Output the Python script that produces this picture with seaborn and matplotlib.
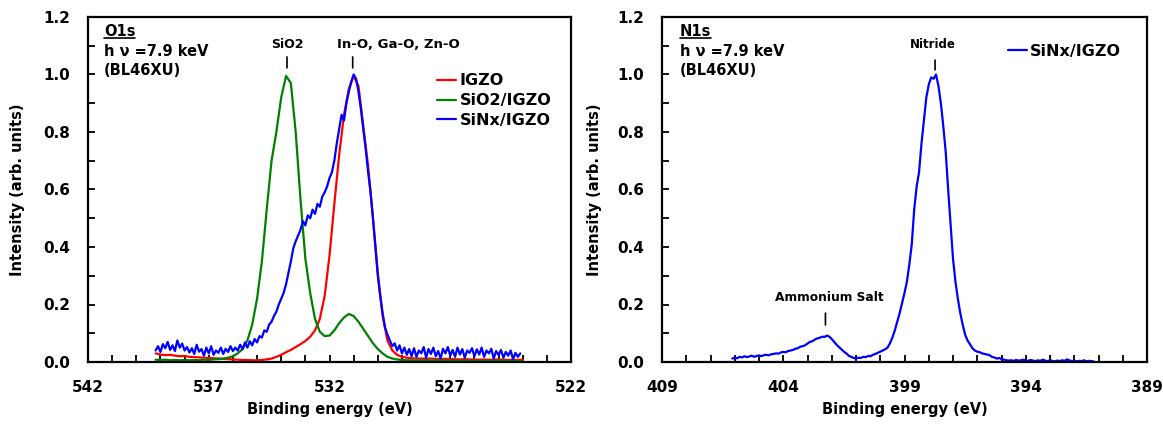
import numpy as np
import matplotlib
matplotlib.use('Agg')
import matplotlib.pyplot as plt
import seaborn as sns
import pandas as pd
from matplotlib.lines import Line2D
from matplotlib.ticker import MultipleLocator

# O1s spectra, 0.2 eV grid starting at 539.2 eV going down
o1s_start = 539.2
igzo = [0.030, 0.026, 0.024, 0.025, 0.022, 0.020, 0.021, 0.018, 0.017, 0.016,
        0.015, 0.014, 0.013, 0.012, 0.011, 0.010, 0.009, 0.008, 0.007, 0.007,
        0.006, 0.006, 0.007, 0.009, 0.012, 0.018, 0.025, 0.034, 0.042, 0.052,
        0.062, 0.073, 0.088, 0.110, 0.150, 0.230, 0.370, 0.550, 0.720, 0.860,
        0.950, 0.995, 0.960, 0.820, 0.680, 0.500, 0.310, 0.160, 0.075, 0.040,
        0.025, 0.018, 0.015, 0.013, 0.012, 0.012, 0.011, 0.012, 0.011, 0.010,
        0.011, 0.010, 0.010, 0.009, 0.010, 0.009, 0.009, 0.008, 0.009, 0.008,
        0.008, 0.009, 0.008, 0.007, 0.008, 0.007, 0.008]
sio2_igzo = [0.008, 0.007, 0.008, 0.006, 0.007, 0.006, 0.007, 0.006, 0.007, 0.006,
             0.008, 0.007, 0.009, 0.010, 0.012, 0.015, 0.020, 0.030, 0.045, 0.075,
             0.130, 0.220, 0.350, 0.530, 0.700, 0.800, 0.920, 0.995, 0.970, 0.800,
             0.565, 0.360, 0.240, 0.150, 0.105, 0.090, 0.092, 0.110, 0.135, 0.155,
             0.167, 0.160, 0.140, 0.115, 0.090, 0.065, 0.045, 0.030, 0.018, 0.012,
             0.009, 0.007, 0.006, 0.006, 0.005, 0.006, 0.005, 0.005, 0.006, 0.005,
             0.004, 0.005, 0.005, 0.004, 0.005, 0.004, 0.005, 0.004, 0.004, 0.005,
             0.004, 0.004, 0.005, 0.004, 0.004, 0.003, 0.004]
# 0.1 eV grid from 539.2 eV
sinx_igzo_o1s = [
    0.040, 0.055, 0.035, 0.062, 0.048, 0.070, 0.042, 0.058, 0.038, 0.075,
    0.050, 0.064, 0.040, 0.052, 0.033, 0.048, 0.028, 0.060, 0.036, 0.045,
    0.022, 0.050, 0.030, 0.055, 0.025, 0.040, 0.032, 0.050, 0.028, 0.046,
    0.035, 0.055, 0.038, 0.050, 0.040, 0.060, 0.045, 0.068, 0.050, 0.072,
    0.058, 0.080, 0.068, 0.090, 0.085, 0.110, 0.105, 0.130, 0.140, 0.160,
    0.175, 0.200, 0.220, 0.240, 0.270, 0.310, 0.350, 0.395, 0.420, 0.440,
    0.460, 0.490, 0.475, 0.510, 0.500, 0.530, 0.515, 0.550, 0.540, 0.575,
    0.590, 0.610, 0.640, 0.660, 0.700, 0.760, 0.810, 0.860, 0.840, 0.900,
    0.940, 0.975, 1.000, 0.985, 0.940, 0.880, 0.810, 0.740, 0.660, 0.590,
    0.500, 0.400, 0.300, 0.230, 0.170, 0.120, 0.095, 0.075, 0.055, 0.065,
    0.040, 0.058, 0.030, 0.050, 0.025, 0.045, 0.020, 0.048, 0.018, 0.040,
    0.030, 0.052, 0.015, 0.045, 0.028, 0.050, 0.020, 0.038, 0.012, 0.046,
    0.030, 0.052, 0.022, 0.042, 0.018, 0.050, 0.026, 0.045, 0.015, 0.040,
    0.032, 0.048, 0.020, 0.044, 0.026, 0.050, 0.018, 0.040, 0.030, 0.046,
    0.012, 0.038, 0.024, 0.042, 0.015, 0.035, 0.022, 0.040, 0.010, 0.032,
    0.018, 0.030]

# N1s spectrum, 0.1 eV grid from 406.1 eV
n1s_start = 406.1
sinx_igzo_n1s = [
    0.012, 0.015, 0.013, 0.018, 0.016, 0.020, 0.017, 0.019, 0.022, 0.018,
    0.021, 0.023, 0.020, 0.024, 0.025, 0.023, 0.027, 0.028, 0.030, 0.029,
    0.033, 0.035, 0.034, 0.038, 0.040, 0.042, 0.046, 0.048, 0.053, 0.055,
    0.058, 0.064, 0.070, 0.072, 0.078, 0.082, 0.084, 0.088, 0.087, 0.092,
    0.088, 0.080, 0.070, 0.060, 0.052, 0.044, 0.036, 0.030, 0.022, 0.018,
    0.014, 0.012, 0.015, 0.014, 0.018, 0.017, 0.021, 0.020, 0.025, 0.028,
    0.032, 0.036, 0.040, 0.044, 0.050, 0.065, 0.085, 0.110, 0.140, 0.170,
    0.205, 0.240, 0.280, 0.340, 0.410, 0.530, 0.610, 0.660, 0.760, 0.840,
    0.920, 0.965, 0.990, 0.985, 1.000, 0.960, 0.900, 0.820, 0.730, 0.600,
    0.480, 0.360, 0.280, 0.220, 0.170, 0.130, 0.095, 0.075, 0.062, 0.048,
    0.040, 0.036, 0.034, 0.030, 0.028, 0.026, 0.024, 0.018, 0.016, 0.012,
    0.014, 0.010, 0.008, 0.006, 0.005, 0.006, 0.004, 0.007, 0.005, 0.006,
    0.008, 0.005, 0.004, 0.007, 0.005, 0.003, 0.006, 0.004, 0.008, 0.005,
    0.003, 0.006, 0.004, 0.002, 0.005, 0.003, 0.006, 0.004, 0.009, 0.006,
    0.003, 0.005, 0.002, 0.004, 0.003, 0.006, 0.002, 0.004, 0.003, 0.002]


def energies(start, step, n):
    return np.round(start - step * np.arange(n), 2)


sns.set_style("ticks")
plt.rcParams['font.family'] = ['DejaVu Sans']
plt.rcParams['font.weight'] = 'bold'
plt.rcParams['axes.labelweight'] = 'bold'
plt.rcParams['text.color'] = 'black'
plt.rcParams['axes.labelcolor'] = 'black'
plt.rcParams['xtick.color'] = 'black'
plt.rcParams['ytick.color'] = 'black'

fig = plt.figure(figsize=(11.63, 4.26), dpi=100)
ax1 = fig.add_axes([88 / 1163, 64 / 426, 483 / 1163, 345 / 426])
ax2 = fig.add_axes([662 / 1163, 64 / 426, 485 / 1163, 345 / 426])

o1s = pd.concat([
    pd.DataFrame({'E': energies(o1s_start, 0.2, len(igzo)), 'I': igzo, 'sample': 'IGZO'}),
    pd.DataFrame({'E': energies(o1s_start, 0.2, len(sio2_igzo)), 'I': sio2_igzo, 'sample': 'SiO2/IGZO'}),
    pd.DataFrame({'E': energies(o1s_start, 0.1, len(sinx_igzo_o1s)), 'I': sinx_igzo_o1s, 'sample': 'SiNx/IGZO'}),
])
n1s = pd.DataFrame({'E': energies(n1s_start, 0.1, len(sinx_igzo_n1s)), 'I': sinx_igzo_n1s,
                    'sample': 'SiNx/IGZO'})

pal = {'IGZO': '#ff0000', 'SiO2/IGZO': '#008000', 'SiNx/IGZO': '#0000ff'}
sns.lineplot(data=o1s, x='E', y='I', hue='sample', palette=pal, ax=ax1, lw=1.6,
             sort=False, estimator=None)
sns.lineplot(data=n1s, x='E', y='I', hue='sample', palette=pal, ax=ax2, lw=1.6,
             sort=False, estimator=None)

for ax, (x0, x1), off, lx in [(ax1, (542, 522), 2, -0.130), (ax2, (409, 389), 4, -0.124)]:
    ax.set_xlim(x0, x1)
    ax.set_ylim(0, 1.2)
    ax.xaxis.set_major_locator(MultipleLocator(5, offset=off))
    ax.xaxis.set_minor_locator(MultipleLocator(1))
    ax.yaxis.set_major_locator(MultipleLocator(0.2))
    ax.yaxis.set_minor_locator(MultipleLocator(0.1))
    ax.yaxis.set_major_formatter('{x:.1f}')
    ax.tick_params(which='both', direction='in', width=1.3, length=5, labelsize=11,
                   top=False, right=False, colors='black')
    ax.tick_params(axis='x', pad=13)
    ax.tick_params(axis='y', pad=13)
    for s in ax.spines.values():
        s.set_linewidth(1.6)
        s.set_color('black')
    for lab in ax.get_xticklabels() + ax.get_yticklabels():
        lab.set_fontweight('bold')
    ax.set_xlabel('Binding energy (eV)', fontsize=10.5)
    ax.set_ylabel('Intensity (arb. units)', fontsize=10.5)
    ax.xaxis.set_label_coords(0.5, -0.115)
    ax.yaxis.set_label_coords(lx, 0.5)

ax1.legend(loc='upper left', bbox_to_anchor=(0.71, 0.855), frameon=False, fontsize=11.5,
           handlelength=1.2, handletextpad=0.2, labelspacing=0.3, borderaxespad=0)
ax2.legend(loc='upper left', bbox_to_anchor=(0.70, 0.94), frameon=False, fontsize=11.5,
           handlelength=1.2, handletextpad=0.2, borderaxespad=0)

# header text blocks
heads = []
for ax, core, x in [(ax1, 'O1s', 0.033), (ax2, 'N1s', 0.037)]:
    t = ax.text(x, 0.957, core, transform=ax.transAxes, fontsize=10.5, va='center')
    ax.text(x, 0.899, 'h ν =7.9 keV', transform=ax.transAxes, fontsize=10.5, va='center')
    ax.text(x, 0.846, '(BL46XU)', transform=ax.transAxes, fontsize=10.5, va='center')
    heads.append(t)

# peak labels
peak_labels = [
    (ax1, 'SiO2', 9, 533.76, 1.106, 533.76, 1.061, 1.023),
    (ax1, 'In-O, Ga-O, Zn-O', 9.5, 529.16, 1.106, 531.04, 1.061, 1.023),
    (ax2, 'Nitride', 8.5, 397.85, 1.103, 397.74, 1.050, 1.016),
    (ax2, 'Ammonium Salt', 8.8, 402.1, 0.223, 402.26, 0.170, 0.129),
]
for ax, txt, fs, tx, ty, px, y0, y1 in peak_labels:
    ax.text(tx, ty, txt, ha='center', va='center', fontsize=fs)
    ax.annotate('', xy=(px, y1), xytext=(px, y0),
                arrowprops=dict(arrowstyle='-', lw=1.2, color='black', shrinkA=0, shrinkB=0))

# underline the core-level names
fig.canvas.draw()
r = fig.canvas.get_renderer()
for t in heads:
    bb = t.get_window_extent(r)
    fig.add_artist(Line2D([bb.x0 / 1163, bb.x1 / 1163], [(bb.y0 + 1) / 426] * 2,
                          color='black', lw=1.2))

fig.savefig('out.png', dpi=100)
